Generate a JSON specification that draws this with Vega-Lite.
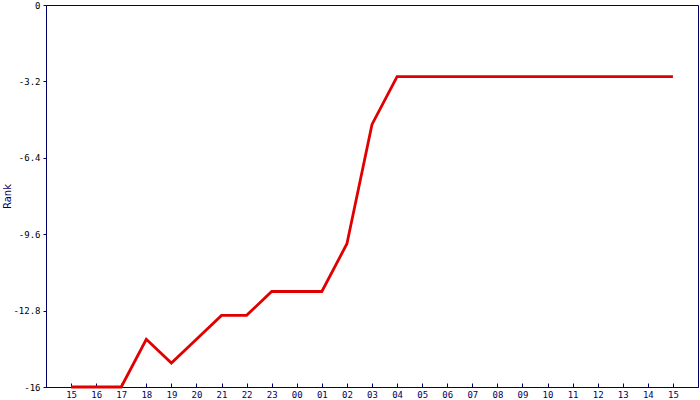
{
  "$schema": "https://vega.github.io/schema/vega-lite/v6.json",
  "width": 652,
  "height": 382,
  "autosize": {"type": "none"},
  "padding": {"left": 46, "top": 5, "right": 2, "bottom": 13},
  "background": "white",
  "config": {
    "view": {"stroke": "#000066", "strokeWidth": 1},
    "axis": {
      "domainColor": "#000066",
      "tickColor": "#000066",
      "labelFont": "DejaVu Sans Mono",
      "labelFontSize": 9,
      "labelColor": "#000000",
      "titleFont": "DejaVu Sans",
      "titleFontSize": 10,
      "titleFontWeight": "normal",
      "titleColor": "#000066",
      "grid": false
    }
  },
  "data": {
    "values": [
      {"idx": 0, "rank": -16},
      {"idx": 1, "rank": -16},
      {"idx": 2, "rank": -16},
      {"idx": 3, "rank": -14},
      {"idx": 4, "rank": -15},
      {"idx": 5, "rank": -14},
      {"idx": 6, "rank": -13},
      {"idx": 7, "rank": -13},
      {"idx": 8, "rank": -12},
      {"idx": 9, "rank": -12},
      {"idx": 10, "rank": -12},
      {"idx": 11, "rank": -10},
      {"idx": 12, "rank": -5},
      {"idx": 13, "rank": -3},
      {"idx": 14, "rank": -3},
      {"idx": 15, "rank": -3},
      {"idx": 16, "rank": -3},
      {"idx": 17, "rank": -3},
      {"idx": 18, "rank": -3},
      {"idx": 19, "rank": -3},
      {"idx": 20, "rank": -3},
      {"idx": 21, "rank": -3},
      {"idx": 22, "rank": -3},
      {"idx": 23, "rank": -3},
      {"idx": 24, "rank": -3}
    ]
  },
  "mark": {"type": "line", "color": "#e00000", "strokeWidth": 2.8, "clip": false},
  "encoding": {
    "x": {
      "field": "idx",
      "type": "quantitative",
      "scale": {"domain": [-1, 25], "nice": false, "zero": false},
      "axis": {
        "title": null,
        "values": [0,1,2,3,4,5,6,7,8,9,10,11,12,13,14,15,16,17,18,19,20,21,22,23,24],
        "labelExpr": "((15 + datum.value) % 24 < 10 ? '0' : '') + ((15 + datum.value) % 24)",
        "tickSize": -4,
        "labelPadding": 7,
        "labelColor": "#000066"
      }
    },
    "y": {
      "field": "rank",
      "type": "quantitative",
      "scale": {"domain": [-16, 0], "nice": false, "zero": false},
      "axis": {
        "title": "Rank",
        "values": [0, -3.2, -6.4, -9.6, -12.8, -16],
        "labelExpr": "'' + datum.value",
        "tickSize": 3,
        "labelPadding": 3,
        "titlePadding": 0
      }
    }
  }
}
